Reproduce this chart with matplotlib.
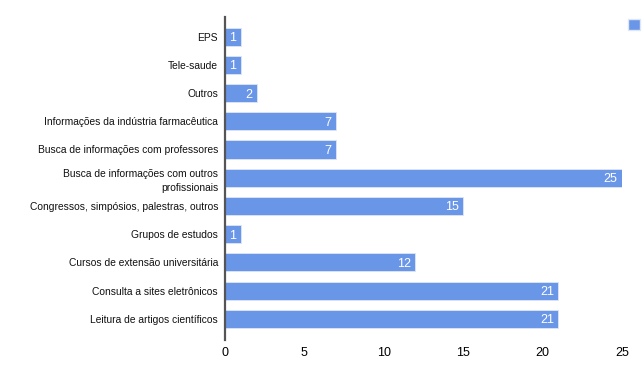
import matplotlib.pyplot as plt
from matplotlib.patches import Patch

plt.rcParams['font.family'] = ['Liberation Sans', 'DejaVu Sans']

categories = [
    "EPS",
    "Tele-saude",
    "Outros",
    "Informações da indústria farmacêutica",
    "Busca de informações com professores",
    "Busca de informações com outros\nprofissionais",
    "Congressos, simpósios, palestras, outros",
    "Grupos de estudos",
    "Cursos de extensão universitária",
    "Consulta a sites eletrônicos",
    "Leitura de artigos científicos",
]
values = [1, 1, 2, 7, 7, 25, 15, 1, 12, 21, 21]
xticks = [0, 5, 10, 15, 20, 25]

color = "#6a96e8"

fig = plt.figure(figsize=(6.43, 3.76), dpi=100)
ax = fig.add_axes([0.35, 0.096, 0.617, 0.859])

pos = range(len(categories))
bars = ax.barh(pos, values, height=0.64, color=color, edgecolor="#dfe6f3", linewidth=0.6)

for p, v in zip(pos, values):
    ax.text(v - 0.28, p, str(v), ha="right", va="center_baseline", color="white", fontsize=9)

ax.set_yticks(list(pos))
ax.set_yticklabels(categories, fontsize=7.4, linespacing=1.5, color="#111111")
ax.set_xticks(xticks)
ax.set_xticklabels([str(t) for t in xticks], fontsize=9)
ax.set_xlim(0, 25)
ax.set_ylim(10.75, -0.7)

for s in ["top", "right", "bottom"]:
    ax.spines[s].set_visible(False)
ax.spines["left"].set_color("#555555")
ax.spines["left"].set_linewidth(1.6)
ax.tick_params(axis="both", length=0)
ax.tick_params(axis="y", pad=5)
ax.tick_params(axis="x", pad=5)

fig.legend(handles=[Patch(facecolor=color, edgecolor="#dfe6f3")], labels=[""],
           loc="upper right", bbox_to_anchor=(1.009, 0.973), frameon=False,
           handlelength=0.9, handleheight=0.9, handletextpad=0, borderaxespad=0.2)

fig.savefig("out.png", dpi=100)
